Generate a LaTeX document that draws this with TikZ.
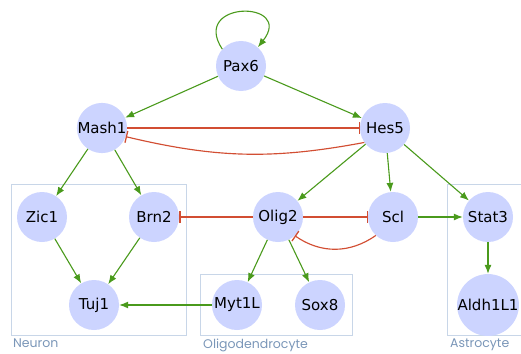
\documentclass[tikz,border=0pt]{standalone}
\usepackage{fontspec}
\setsansfont{DejaVu Sans}
\newfontfamily\cellfont{Poppins}
\usetikzlibrary{arrows.meta}
\definecolor{genefill}{HTML}{CCD4FF}
\definecolor{actgreen}{HTML}{4A9A1C}
\definecolor{inhred}{HTML}{D24E33}
\definecolor{boxblue}{HTML}{C8D6E8}
\definecolor{labblue}{HTML}{7A96B8}
\tikzset{
  gene/.style = {circle, fill=genefill, minimum size=50pt, inner sep=0pt,
    font=\sffamily\fontsize{15}{15}\selectfont},% gene node
  act/.style = {draw=actgreen, line width=1.1pt,
    -{Latex[length=9pt,width=7pt]}},% activation
  inh/.style = {draw=inhred, line width=1.15pt,
    -{Bar[width=12pt,line width=1.3pt]}},% inhibition
  cellbox/.style = {draw=boxblue, line width=0.9pt},% cell type frame
  celllabel/.style = {anchor=north west, inner sep=0pt, text=labblue,
    font=\cellfont\fontsize{12.5}{12.5}\selectfont}% cell type name
}

\begin{document}
\begin{tikzpicture}[x=1pt,y=1pt]
\clip (0,0) rectangle (521,-353);

% cell types
\draw[cellbox] (11,-184) rectangle (186,-335);
\draw[cellbox] (200,-274) rectangle (352,-335);
\draw[cellbox] (447,-184) rectangle (530,-335);
\node[celllabel] (neu) at (13,-339) {Neuron};
\node[celllabel] (oli) at (203,-339) {Oligodendrocyte};
\node[celllabel] (ast) at (450,-339) {Astrocyte};

% genes
\node[gene] (pax) at (241,-66) {Pax6};
\node[gene] (mash) at (102,-128) {Mash1};
\node[gene] (hes) at (385,-128) {Hes5};
\node[gene] (zic) at (42,-217) {Zic1};
\node[gene] (brn) at (154,-217) {Brn2};
\node[gene] (olig) at (278,-217) {Olig2};
\node[gene] (scl) at (393,-217) {Scl};
\node[gene] (stat) at (488,-217) {Stat3};
\node[gene] (tuj) at (94,-305) {Tuj1};
\node[gene] (myt) at (237,-305) {Myt1L};
\node[gene] (sox) at (320,-305) {Sox8};
\node[gene] (ald) at (488,-305) {Aldh1L1};

\draw[act] (pax.138) .. controls (190,0) and (295,0) .. (pax.48);
\draw[act] (pax) -- (mash);
\draw[act] (pax) -- (hes);
\draw[inh] (mash.east) -- (hes.west);
\draw[inh] (hes.215) to[bend left=12] (mash.340);
\draw[act] (mash) -- (zic);
\draw[act] (mash) -- (brn);
\draw[act] (hes) -- (olig);
\draw[act] (hes) -- (scl);
\draw[act] (hes) -- (stat);
\draw[act] (zic) -- (tuj);
\draw[act] (brn) -- (tuj);
\draw[inh] (olig.west) -- (brn.east);
\draw[inh] (olig.east) -- (scl.west);
\draw[inh] (scl.227) to[bend left=35] (olig.312);
\draw[act] (scl.east) -- (stat.west);
\draw[act] (olig) -- (myt);
\draw[act] (olig) -- (sox);
\draw[act] (stat) -- (ald);
\draw[act] (myt.west) -- (tuj.east);
\end{tikzpicture}
\end{document}
